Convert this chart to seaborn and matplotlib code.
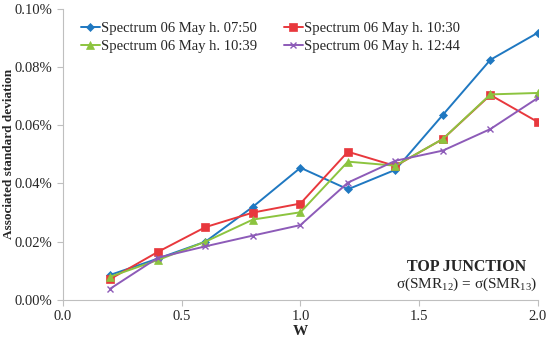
import pandas as pd
import matplotlib.pyplot as plt
import seaborn as sns

w = [0.2, 0.4, 0.6, 0.8, 1.0, 1.2, 1.4, 1.6, 1.8, 2.0]

# valori in percentuale
s_0750 = [0.0086, 0.0142, 0.0200, 0.0320, 0.0454, 0.0380, 0.0447, 0.0636, 0.0825, 0.0918]
s_1030 = [0.0072, 0.0165, 0.0250, 0.0300, 0.0331, 0.0509, 0.0460, 0.0553, 0.0704, 0.0611]
s_1039 = [0.0080, 0.0137, 0.0200, 0.0276, 0.0301, 0.0475, 0.0461, 0.0553, 0.0706, 0.0711]
s_1244 = [0.0039, 0.0145, 0.0184, 0.0221, 0.0257, 0.0403, 0.0478, 0.0513, 0.0587, 0.0694]

labels = ['Spectrum 06 May h. 07:50', 'Spectrum 06 May h. 10:30',
          'Spectrum 06 May h. 10:39', 'Spectrum 06 May h. 12:44']
series = [s_0750, s_1030, s_1039, s_1244]

df = pd.concat([pd.DataFrame({'W': w, 'sd': s, 'serie': lab}) for lab, s in zip(labels, series)])

colors = dict(zip(labels, ['#1f78c1', '#e8383d', '#8cc43f', '#8d5bb8']))
markers = dict(zip(labels, ['D', 's', '^', 'x']))
msizes = [4, 6, 6, 5]

sns.set_style('white')
plt.rcParams['font.family'] = ['Liberation Serif', 'DejaVu Serif']
plt.rcParams['mathtext.fontset'] = 'custom'
plt.rcParams['mathtext.rm'] = 'Liberation Serif'

fig = plt.figure(figsize=(5.5, 3.4), dpi=100)
ax = fig.add_axes([0.1145, 0.118, 0.8635, 0.856])

for lab, ms in zip(labels, msizes):
    sns.lineplot(data=df[df['serie'] == lab], x='W', y='sd', color=colors[lab],
                 marker=markers[lab], markersize=ms, markeredgewidth=1 if lab.endswith('12:44') else 0.5,
                 markeredgecolor=colors[lab], linewidth=1.4, label=lab, ax=ax)

ax.set_xlim(0, 2.0)
ax.set_ylim(0, 0.10)
ax.set_xticks([0, 0.5, 1.0, 1.5, 2.0])
ax.set_xticklabels(['0.0', '0.5', '1.0', '1.5', '2.0'])
ax.set_yticks([0, 0.02, 0.04, 0.06, 0.08, 0.10])
ax.set_yticklabels(['%.2f%%' % v for v in [0, 0.02, 0.04, 0.06, 0.08, 0.10]])
ax.tick_params(labelsize=10.5, length=4, color='#bfbfbf', direction='out', left=True, bottom=True)
for sp in ['top', 'right']:
    ax.spines[sp].set_visible(False)
for sp in ['left', 'bottom']:
    ax.spines[sp].set_color('#bfbfbf')

ax.set_xlabel('W', fontweight='bold', fontsize=11, labelpad=1)
ax.set_ylabel('Associated standard deviation', fontweight='bold', fontsize=9.5)
ax.yaxis.set_label_coords(-0.10, 0.5)

h, l = ax.get_legend_handles_labels()
order = [0, 2, 1, 3]
ax.legend([h[i] for i in order], [l[i] for i in order], ncol=2, frameon=False,
          loc='upper left', bbox_to_anchor=(0.01, 1.0), fontsize=10.5,
          handlelength=1.3, handletextpad=0.1, columnspacing=1.8, labelspacing=0.3)

ax.text(0.85, 0.10, 'TOP JUNCTION', transform=ax.transAxes, ha='center',
        fontweight='bold', fontsize=11.5)
ax.text(0.85, 0.042, r'σ(SMR$_{12}$) = σ(SMR$_{13}$)', transform=ax.transAxes,
        ha='center', fontsize=11)

fig.savefig('out.png')
